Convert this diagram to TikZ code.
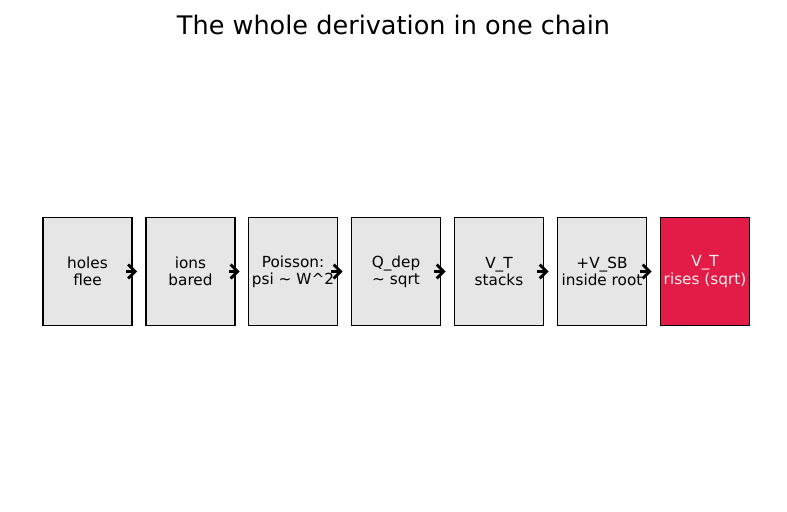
\documentclass[tikz,border=0pt]{standalone}
\usepackage{fontspec}
\setmainfont{DejaVu Sans}
\usetikzlibrary{arrows.meta,calc}
\definecolor{boxgray}{HTML}{E6E6E6}
\definecolor{boxred}{HTML}{E31C47}
\begin{document}
\begin{tikzpicture}[x=0.72pt,y=-0.72pt,
  stepbox/.style={draw=black,line width=1.3pt,fill=boxgray,minimum width=89*0.72pt,minimum height=108*0.72pt,inner sep=0pt,align=center,font=\fontsize{11}{12.5}\selectfont},
  hotbox/.style={stepbox,fill=boxred,text=white!92!boxred},
  chainarrow/.style={line width=2pt,-{Straight Barb[length=5pt,width=10pt]}}]
\useasboundingbox (0,0) rectangle (787,512);
\node[font=\fontsize{18.4}{22}\selectfont,anchor=base] (title) at (393.5,35) {The whole derivation in one chain};
\node[stepbox] (b1) at (87.5,271.5) {holes\\flee};
\node[stepbox] (b2) at (190.5,271.5) {ions\\bared};
\node[stepbox] (b3) at (293,271.5) {Poisson:\\psi \textasciitilde{} W\textasciicircum{}2};
\node[stepbox] (b4) at (396,271.5) {Q\_dep\\\textasciitilde{} sqrt};
\node[stepbox] (b5) at (499,271.5) {V\_T\\stacks};
\node[stepbox] (b6) at (602,271.5) {+V\_SB\\inside root};
\node[hotbox] (b7) at (705,271.5) {V\_T\\rises (sqrt)};
\foreach \a/\b in {b1/b2,b2/b3,b3/b4,b4/b5,b5/b6,b6/b7}{
  \draw[chainarrow] ($(\a.east)+(-7,0)$) -- ($(\b.west)+(-8,0)$);
}
\end{tikzpicture}
\end{document}
